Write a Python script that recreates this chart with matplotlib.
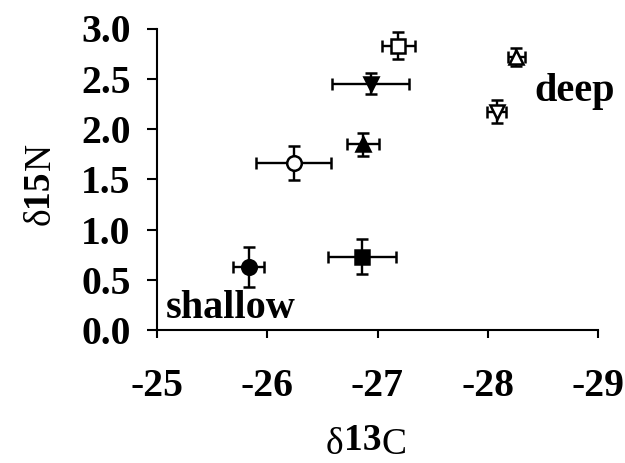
import matplotlib
matplotlib.use("Agg")
import matplotlib.pyplot as plt

# data
d13C = [-27.19, -26.94, -28.26, -28.08, -26.87, -26.24, -25.83, -26.86]
d15N = [2.83, 2.45, 2.72, 2.17, 1.85, 1.66, 0.63, 0.73]
xerr = [0.15, 0.35, 0.08, 0.09, 0.145, 0.34, 0.14, 0.31]
yerr = [0.135, 0.105, 0.09, 0.115, 0.115, 0.17, 0.2, 0.175]
markers = ['s', 'v', '^', 'v', '^', 'o', 'o', 's']
filled = [False, True, False, False, True, False, True, True]

xticks = [-25, -26, -27, -28, -29]
xticklabels = ['-25', '-26', '-27', '-28', '-29']
yticks = [0.0, 0.5, 1.0, 1.5, 2.0, 2.5, 3.0]
yticklabels = ['0.0', '0.5', '1.0', '1.5', '2.0', '2.5', '3.0']

SERIF = 'Liberation Serif'
W, H = 625, 463

fig = plt.figure(figsize=(W / 100, H / 100), dpi=100)
ax = fig.add_axes([157 / W, 1 - 330 / H, (598 - 157) / W, (330 - 28.5) / H])

for x, y, xe, ye, m, f in zip(d13C, d15N, xerr, yerr, markers, filled):
    ax.errorbar(x, y, xerr=xe, yerr=ye, fmt=m, color='black',
                markerfacecolor='black' if f else 'white',
                markeredgecolor='black', markeredgewidth=1.8,
                markersize=10.5, ecolor='black', elinewidth=1.7,
                capsize=4, capthick=1.7, zorder=3)

ax.set_xlim(-25, -29)
ax.set_ylim(0, 3)
ax.set_xticks(xticks)
ax.set_xticklabels(xticklabels)
ax.set_yticks(yticks)
ax.set_yticklabels(yticklabels)
for s in ['top', 'right']:
    ax.spines[s].set_visible(False)
for s in ['left', 'bottom']:
    ax.spines[s].set_linewidth(1.5)
ax.tick_params(axis='x', direction='out', length=6, width=1.5, pad=21)
ax.tick_params(axis='y', direction='out', length=7, width=1.5, pad=12)
for lab in ax.get_xticklabels() + ax.get_yticklabels():
    lab.set_fontfamily(SERIF)
    lab.set_fontweight('bold')
    lab.set_fontsize(28.5)

ax.text(-25.08, 0.03, 'shallow', family=SERIF, fontweight='bold', fontsize=29,
        ha='left', va='bottom')
ax.text(-28.42, 2.37, 'deep', family=SERIF, fontweight='bold', fontsize=29,
        ha='left', va='center')

# composite axis labels laid out piece by piece (pixel positions)
fig.canvas.draw()
renderer = fig.canvas.get_renderer()
fs = 27
cx, base = 326.0, 454.0
for txt, wt, rise in [('\u03b4', 'normal', 0), ('13', 'bold', 4), ('C', 'normal', 0)]:
    t = fig.text(cx / W, 1 - (base - rise) / H, txt, family=SERIF, fontweight=wt,
                 fontsize=fs, ha='left', va='baseline')
    cx += t.get_window_extent(renderer).width

cy, bx = 225.0, 50.0
for txt, wt, rise in [('\u03b4', 'normal', 0), ('15', 'bold', 3), ('N', 'normal', 0)]:
    t = fig.text((bx - rise) / W, 1 - cy / H, txt, family=SERIF, fontweight=wt,
                 fontsize=fs, ha='left', va='baseline', rotation=90,
                 rotation_mode='anchor')
    cy -= t.get_window_extent(renderer).height

fig.savefig('out.png', dpi=100)
